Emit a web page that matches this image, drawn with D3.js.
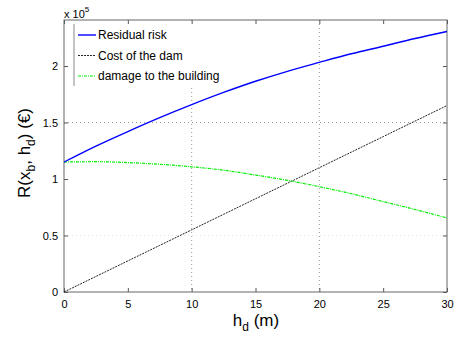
<!DOCTYPE html>
<html><head><meta charset="utf-8">
<script src="https://cdn.jsdelivr.net/npm/d3@7"></script>
<style>body{margin:0;background:#fff;} svg{display:block;} text{font-family:"Liberation Sans",Arial,sans-serif;}</style>
</head><body>
<svg id="c" width="454" height="340"></svg>
<script>
const hd = [0, 2.5, 5, 7.5, 10, 12.5, 15, 17.5, 20, 22.5, 25, 27.5, 30];
const residualRisk = [1.150, 1.291, 1.420, 1.543, 1.658, 1.766, 1.865, 1.953, 2.032, 2.108, 2.175, 2.243, 2.305];
const costOfDam = [0, 0.1375, 0.275, 0.4125, 0.55, 0.6875, 0.825, 0.9625, 1.1, 1.2375, 1.375, 1.5125, 1.65];
const damageBuilding = [1.150, 1.153, 1.145, 1.130, 1.108, 1.078, 1.035, 0.988, 0.932, 0.870, 0.800, 0.730, 0.655];
const xTicks = [0, 5, 10, 15, 20, 25, 30];
const yTicks = [0, 0.5, 1, 1.5, 2];
const xGrid = [10, 20];
const yGrid = [1.5];
const yGridFaint = [0.5];
const seriesNames = ["Residual risk", "Cost of the dam", "damage to the building"];

const svg = d3.select("#c");
const L = 64, R = 447, T = 20, B = 292;
const x = d3.scaleLinear().domain([0, 30]).range([L, R]);
const y = d3.scaleLinear().domain([0, 2.407]).range([B, T]);

// grid
svg.selectAll(".gx").data(xGrid).enter().append("line")
  .attr("x1", d => x(d)).attr("x2", d => x(d)).attr("y1", T).attr("y2", B)
  .attr("stroke", "#999").attr("stroke-width", 1).attr("stroke-dasharray", "1,3");
svg.selectAll(".gy").data(yGrid).enter().append("line")
  .attr("x1", L).attr("x2", R).attr("y1", d => y(d)).attr("y2", d => y(d))
  .attr("stroke", "#999").attr("stroke-width", 1).attr("stroke-dasharray", "1,3");
svg.selectAll(".gyf").data(yGridFaint).enter().append("line")
  .attr("x1", L).attr("x2", R).attr("y1", d => y(d)).attr("y2", d => y(d))
  .attr("stroke", "#e4e4e4").attr("stroke-width", 1).attr("stroke-dasharray", "1,3");

// axes
const ax = svg.append("g").attr("transform", `translate(0,${B})`)
  .call(d3.axisBottom(x).tickValues(xTicks).tickSizeInner(-4).tickSizeOuter(0).tickPadding(8).tickFormat(d3.format("d")));
const axT = svg.append("g").attr("transform", `translate(0,${T})`)
  .call(d3.axisTop(x).tickValues(xTicks).tickSizeInner(-4).tickSizeOuter(0).tickFormat(""));
const ay = svg.append("g").attr("transform", `translate(${L},0)`)
  .call(d3.axisLeft(y).tickValues(yTicks).tickSizeInner(-4).tickSizeOuter(0).tickPadding(6).tickFormat(d => d));
const ayR = svg.append("g").attr("transform", `translate(${R},0)`)
  .call(d3.axisRight(y).tickValues(yTicks).tickSizeInner(-4).tickSizeOuter(0).tickFormat(""));
[ax, axT, ay, ayR].forEach(g => {
  g.selectAll(".domain").remove();
  g.selectAll("line").attr("stroke", "#555");
  g.selectAll("text").attr("font-size", 11).attr("fill", "#000").attr("font-family", "Liberation Sans, Arial, sans-serif");
});
// box
svg.append("rect").attr("x", L).attr("y", T).attr("width", R - L).attr("height", B - T)
  .attr("fill", "none").attr("stroke", "#666").attr("stroke-width", 1);

// lines
svg.append("path").datum(costOfDam).attr("d", d3.line().x((d, i) => x(hd[i])).y(d => y(d))).attr("fill", "none")
  .attr("stroke", "#222").attr("stroke-width", 1).attr("stroke-dasharray", "2,1");
svg.append("path").datum(damageBuilding).attr("d", d3.line().curve(d3.curveMonotoneX).x((d, i) => x(hd[i])).y(d => y(d)))
  .attr("fill", "none").attr("stroke", "#00ee00").attr("stroke-width", 1.2).attr("stroke-dasharray", "3,1,1,1");
svg.append("path").datum(residualRisk).attr("d", d3.line().curve(d3.curveMonotoneX).x((d, i) => x(hd[i])).y(d => y(d)))
  .attr("fill", "none").attr("stroke", "#0000ff").attr("stroke-width", 1.4);

// legend
svg.append("rect").attr("x", 74).attr("y", 24).attr("width", 160).attr("height", 62).attr("fill", "#fff");
svg.append("line").attr("x1", 74).attr("x2", 74).attr("y1", 24).attr("y2", 86).attr("stroke", "#888").attr("stroke-width", 1);
const legStyles = [
  {stroke: "#0000ff", dash: null, w: 1.4},
  {stroke: "#222", dash: "2,1", w: 1},
  {stroke: "#00ee00", dash: "3,1,1,1", w: 1.2}
];
seriesNames.forEach((n, i) => {
  const yy = 35 + i * 20.5;
  svg.append("line").attr("x1", 78).attr("x2", 96).attr("y1", yy).attr("y2", yy)
    .attr("stroke", legStyles[i].stroke).attr("stroke-width", legStyles[i].w)
    .attr("stroke-dasharray", legStyles[i].dash);
  svg.append("text").attr("x", 98).attr("y", yy + 4).attr("font-size", 12).text(n);
});

// exponent
const ex = svg.append("text").attr("x", 64).attr("y", 18).attr("font-size", 11);
ex.append("tspan").text("x 10");
ex.append("tspan").attr("dy", -6).attr("font-size", 8).text("5");

// x label
const xl = svg.append("text").attr("x", 256).attr("y", 326).attr("text-anchor", "middle").attr("font-size", 17);
xl.append("tspan").text("h");
xl.append("tspan").attr("dy", 5).attr("font-size", 12).text("d");
xl.append("tspan").attr("dy", -5).text(" (m)");

// y label
const yl = svg.append("text").attr("transform", "translate(30,153) rotate(-90)").attr("text-anchor", "middle").attr("font-size", 17);
yl.append("tspan").text("R(x");
yl.append("tspan").attr("dy", 5).attr("font-size", 12).text("b");
yl.append("tspan").attr("dy", -5).text(", h");
yl.append("tspan").attr("dy", 5).attr("font-size", 12).text("d");
yl.append("tspan").attr("dy", -5).text(") (€)");
</script>
</body></html>
